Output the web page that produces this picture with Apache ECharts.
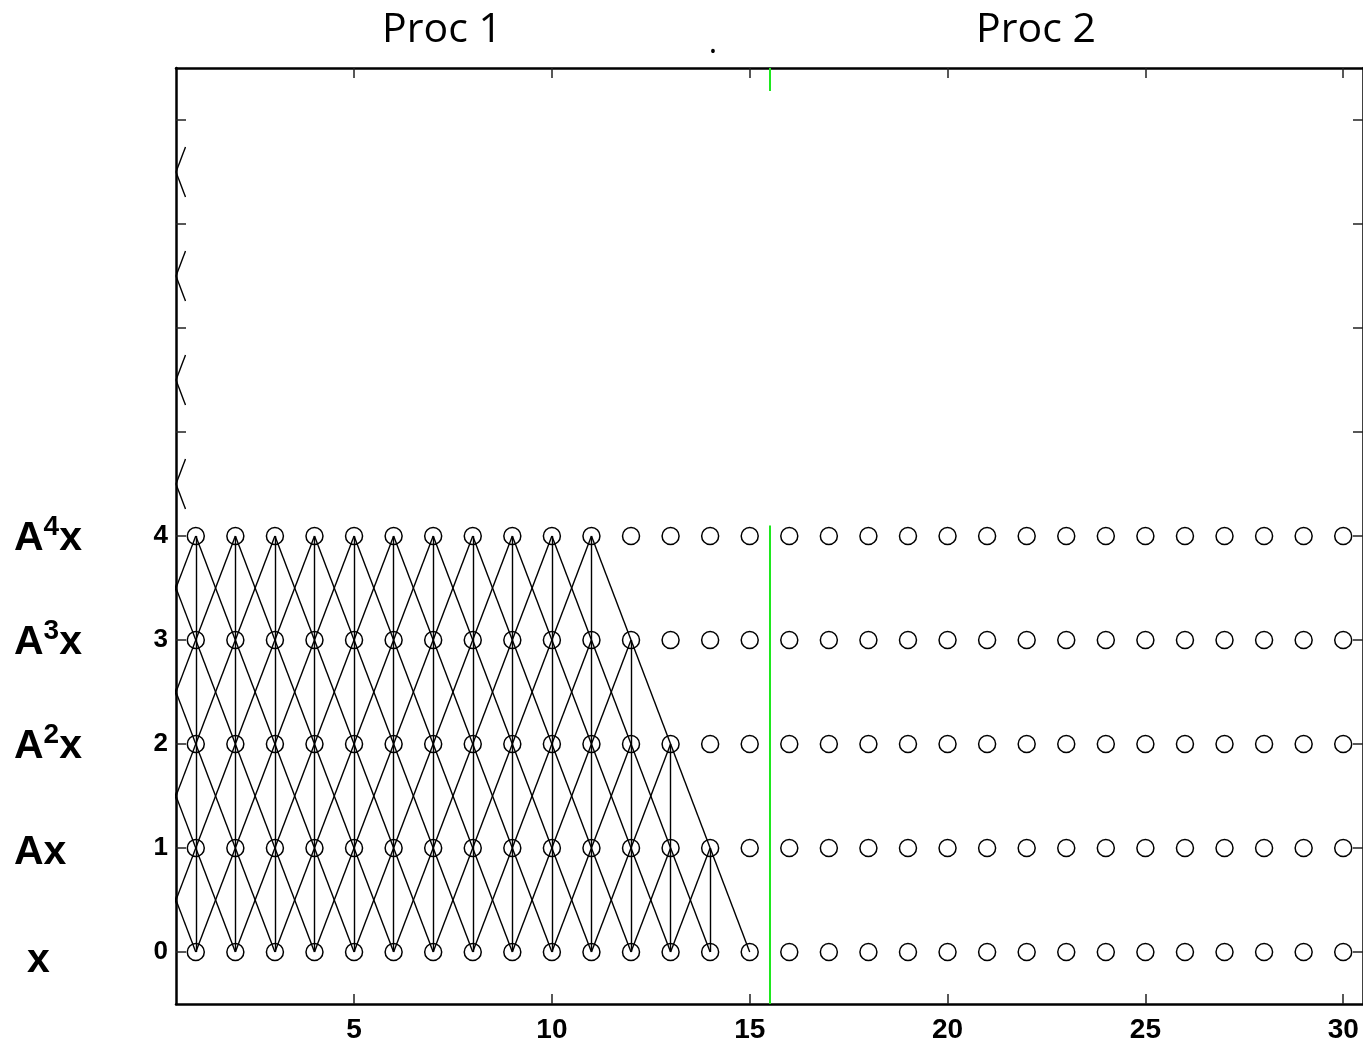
<!DOCTYPE html>
<html>
<head>
<meta charset="utf-8">
<script src="https://cdn.jsdelivr.net/npm/echarts@6/dist/echarts.min.js"></script>
<style>
html,body{margin:0;padding:0;background:#fff;}
#chart{width:1363px;height:1044px;}
</style>
</head>
<body>
<div id="chart"></div>
<script>
// ---- data ----
const nodePositions = [1,2,3,4,5,6,7,8,9,10,11,12,13,14,15,16,17,18,19,20,21,22,23,24,25,26,27,28,29,30];
const levels = [0,1,2,3,4];
// last node index (per level) that takes part in the dependency graph
const lastConnected = [15,14,13,12,11];
const xTickValues = [5,10,15,20,25,30];
const yTickValues = [0,1,2,3,4,5,6,7,8];
const yLabelValues = [0,1,2,3,4];
const procBoundary = 15.5;
const boundarySegments = [[-0.5,4.1],[8.28,8.5]];
const zigzagCenters = [4.5,5.5,6.5,7.5];
const zigzagReach = [0.74,0.24]; // x end, half height
const levelNames = ['x','Ax','A{s|2}x','A{s|3}x','A{s|4}x'];
const procNames = ['Proc 1','Proc 2'];

// ---- build marks ----
const nodes = [];
levels.forEach(k => nodePositions.forEach(i => nodes.push([i,k])));

const edges = [];
for (let k = 1; k < levels.length; k++) {
  for (let i = 0; i <= lastConnected[k]; i++) {
    [-1,0,1].forEach(d => edges.push({coords:[[i,k],[i+d,k-1]]}));
  }
}
zigzagCenters.forEach(c => {
  edges.push({coords:[[0.5,c],[zigzagReach[0],c+zigzagReach[1]]]});
  edges.push({coords:[[0.5,c],[zigzagReach[0],c-zigzagReach[1]]]});
});
const greenLines = boundarySegments.map(s => ({coords:[[procBoundary,s[0]],[procBoundary,s[1]]]}));

const chart = echarts.init(document.getElementById('chart'), null, {renderer:'canvas'});
const tickStyle = {color:'#222', width:1.5};
const gridLeft = 176, gridTop = 68, gridBottom = 1005;
const yUnit = (gridBottom-gridTop)/9;

const graphics = [];
levelNames.forEach((t,k) => {
  graphics.push({
    type:'text',
    left: k === 0 ? 27 : 14,
    top: gridBottom - yUnit*(k+0.5) - 17 + (k===0 ? 4 : 0) - (k>=2 ? 6 : 0),
    style:{
      text:t,
      fontFamily:'Liberation Sans',
      fontWeight:'bold',
      fontSize:41,
      fill:'#000',
      rich:{s:{fontSize:28,fontWeight:'bold',fontFamily:'Liberation Sans',verticalAlign:'top',padding:[0,0,22,0]}}
    }
  });
});
graphics.push({type:'text', x:442, y:30, style:{text:procNames[0], fontFamily:'Open Sans', fontSize:41, fill:'#000', align:'center', verticalAlign:'middle'}});
graphics.push({type:'text', x:1036, y:30, style:{text:procNames[1], fontFamily:'Open Sans', fontSize:41, fill:'#000', align:'center', verticalAlign:'middle'}});
graphics.push({type:'text', x:713, y:44, style:{text:'.', fontFamily:'Open Sans', fontSize:32, fill:'#000', align:'center', verticalAlign:'middle'}});

const option = {
  animation:false,
  backgroundColor:'#fff',
  grid:{left:gridLeft, top:gridTop, width:1189, height:gridBottom-gridTop, containLabel:false},
  xAxis:[
    {type:'value', min:0.5, max:30.5, position:'bottom',
     axisLine:{show:true, onZero:false, lineStyle:{color:'#000', width:2.5}},
     axisTick:{show:true, inside:true, length:10, customValues:xTickValues, lineStyle:tickStyle},
     axisLabel:{show:true, customValues:xTickValues, margin:12, color:'#000', fontFamily:'Liberation Sans', fontWeight:'bold', fontSize:28},
     splitLine:{show:false}},
    {type:'value', min:0.5, max:30.5, position:'top',
     axisLine:{show:true, onZero:false, lineStyle:{color:'#000', width:2.5}},
     axisTick:{show:true, inside:true, length:10, customValues:xTickValues, lineStyle:tickStyle},
     axisLabel:{show:false},
     splitLine:{show:false}}
  ],
  yAxis:[
    {type:'value', min:-0.5, max:8.5, position:'left',
     axisLine:{show:true, onZero:false, lineStyle:{color:'#000', width:2.5}},
     axisTick:{show:true, inside:true, length:10, customValues:yTickValues, lineStyle:tickStyle},
     axisLabel:{show:true, customValues:yLabelValues, margin:8, color:'#000', fontFamily:'Liberation Sans', fontWeight:'bold', fontSize:26},
     splitLine:{show:false}},
    {type:'value', min:-0.5, max:8.5, position:'right',
     axisLine:{show:true, onZero:false, lineStyle:{color:'#000', width:2.5}},
     axisTick:{show:true, inside:true, length:10, customValues:yTickValues, lineStyle:tickStyle},
     axisLabel:{show:false},
     splitLine:{show:false}}
  ],
  series:[
    {type:'lines', coordinateSystem:'cartesian2d', xAxisIndex:0, yAxisIndex:0, clip:true, silent:true,
     lineStyle:{color:'#000', width:1.4, opacity:1}, data:edges, z:2},
    {type:'lines', coordinateSystem:'cartesian2d', xAxisIndex:0, yAxisIndex:0, clip:true, silent:true,
     lineStyle:{color:'#1ee81e', width:2, opacity:1}, data:greenLines, z:3},
    {type:'scatter', xAxisIndex:0, yAxisIndex:0, symbol:'circle', symbolSize:17, silent:true,
     itemStyle:{color:'rgba(0,0,0,0)', borderColor:'#000', borderWidth:1.5, opacity:1},
     data:nodes, z:4}
  ],
  graphic:graphics
};
chart.setOption(option);
</script>
</body>
</html>
